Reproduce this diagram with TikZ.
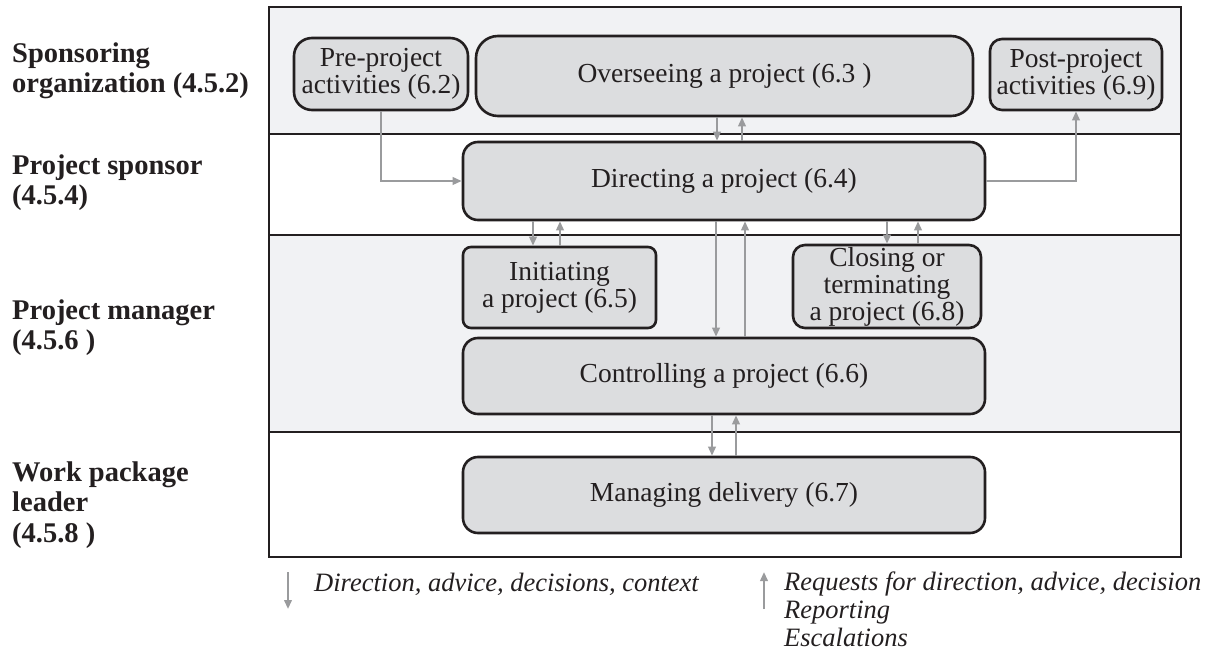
\documentclass[tikz,border=0pt]{standalone}
\usepackage{fontspec}
\setmainfont{Liberation Serif}
\usetikzlibrary{arrows.meta}
\definecolor{lanefill}{HTML}{F1F2F4}
\definecolor{boxfill}{HTML}{DCDDDF}
\definecolor{inkline}{HTML}{231F20}
\definecolor{flowgray}{HTML}{9A9B9D}
\tikzset{
  lane/.style={draw=inkline, line width=2.7pt},
  procbox/.style={draw=inkline, line width=2.6pt, fill=boxfill, align=center, inner sep=0pt,
    text=inkline, font=\fontsize{27.5}{27}\selectfont},
  flow/.style={draw=flowgray, line width=2.1pt, -{Triangle[length=9pt,width=7.5pt]}},
  rolelbl/.style={anchor=base west, align=left, inner sep=0pt, text=inkline,
    font=\fontsize{28.5}{30.5}\selectfont\bfseries},
  legendlbl/.style={anchor=base west, align=left, inner sep=0pt, text=inkline,
    font=\fontsize{26.5}{28}\selectfont\itshape}
}
\begin{document}
\begin{tikzpicture}[x=1pt,y=-1pt]
\useasboundingbox (0,0) rectangle (1219,660);
\fill[white] (0,0) rectangle (1219,660);
% lanes
\fill[lanefill] (269,7) rectangle (1181,134);
\fill[lanefill] (269,235) rectangle (1181,432);
\draw[lane] (269,134) -- (1181,134);
\draw[lane] (269,235) -- (1181,235);
\draw[lane] (269,432) -- (1181,432);
\draw[lane] (269,7) rectangle (1181,557);

% role labels (anchor = baseline of last line)
\node[rolelbl] (r1) at (12,93) {Sponsoring\\organization (4.5.2)};
\node[rolelbl] (r2) at (12,205) {Project sponsor\\(4.5.4)};
\node[rolelbl] (r3) at (12,350) {Project manager\\(4.5.6 )};
\node[rolelbl] (r4) at (12,542) {Work package\\leader\\(4.5.8 )};

% process boxes
\node[procbox, rounded corners=18pt, minimum width=174pt, minimum height=72pt] (pre) at (381,74) {Pre-project\\activities (6.2)};
\node[procbox, rounded corners=22pt, minimum width=497pt, minimum height=80pt] (over) at (724.5,76) {Overseeing a project (6.3 )};
\node[procbox, rounded corners=12pt, minimum width=172pt, minimum height=71pt] (post) at (1076,74.5) {Post-project\\activities (6.9)};
\node[procbox, rounded corners=15pt, minimum width=522pt, minimum height=78pt] (dir) at (724,181) {Directing a project (6.4)};
\node[procbox, rounded corners=8pt, minimum width=193pt, minimum height=81pt] (init) at (559.5,287.5) {Initiating\\a project (6.5)};
\node[procbox, rounded corners=12pt, minimum width=188pt, minimum height=83pt] (close) at (887,286.5) {Closing or\\terminating\\a project (6.8)};
\node[procbox, rounded corners=15pt, minimum width=522pt, minimum height=76pt] (ctrl) at (724,376) {Controlling a project (6.6)};
\node[procbox, rounded corners=15pt, minimum width=522pt, minimum height=76pt] (mgmt) at (724,495) {Managing delivery (6.7)};

% arrow x positions
\coordinate (a1d) at (717,0);
\coordinate (a1u) at (742,0);
\coordinate (a2d) at (533,0);
\coordinate (a2u) at (560,0);
\coordinate (a3d) at (716,0);
\coordinate (a3u) at (745,0);
\coordinate (a4d) at (887,0);
\coordinate (a4u) at (918,0);
\coordinate (a5d) at (712,0);
\coordinate (a5u) at (736,0);

% connectors
\draw[flow] (over.south -| a1d) -- (dir.north -| a1d);
\draw[flow] (dir.north -| a1u) -- (over.south -| a1u);
\draw[flow] (dir.south -| a2d) -- (init.north -| a2d);
\draw[flow] (init.north -| a2u) -- (dir.south -| a2u);
\draw[flow] (dir.south -| a3d) -- (ctrl.north -| a3d);
\draw[flow] (ctrl.north -| a3u) -- (dir.south -| a3u);
\draw[flow] (dir.south -| a4d) -- (close.north -| a4d);
\draw[flow] (close.north -| a4u) -- (dir.south -| a4u);
\draw[flow] (ctrl.south -| a5d) -- (mgmt.north -| a5d);
\draw[flow] (mgmt.north -| a5u) -- (ctrl.south -| a5u);
\draw[flow] (pre.south) |- (dir.west);
\draw[flow] (dir.east) -| (post.south);

% legend
\coordinate (ld1) at (288,572);
\coordinate (ld2) at (288,609);
\coordinate (lu1) at (764,609);
\coordinate (lu2) at (764,572);
\draw[flow] (ld1) -- (ld2);
\draw[flow] (lu1) -- (lu2);
\node[legendlbl] (leg1) at (314,591) {Direction, advice, decisions, context};
\node[legendlbl] (leg2) at (784,646) {Requests for direction, advice, decision\\Reporting\\Escalations};
\end{tikzpicture}
\end{document}
